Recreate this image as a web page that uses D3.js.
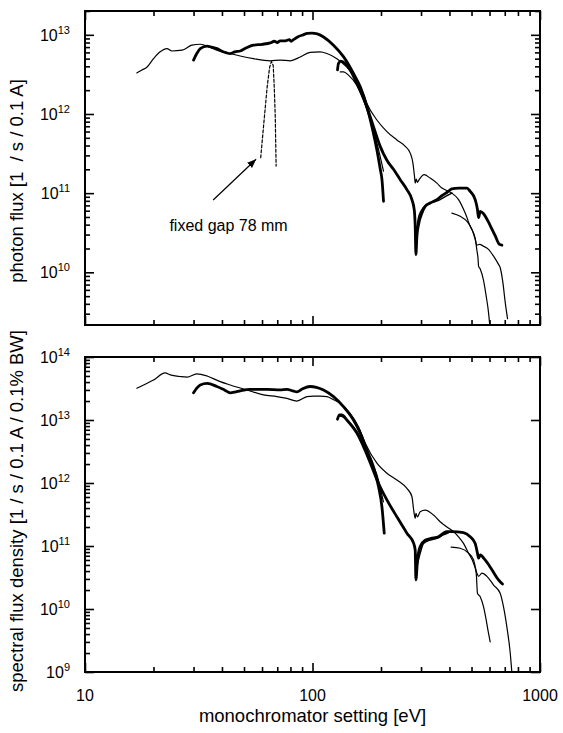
<!DOCTYPE html>
<html>
<head>
<meta charset="utf-8">
<script src="https://cdn.jsdelivr.net/npm/d3@7"></script>
<style>
  body { margin: 0; background: #fff; }
  svg text { font-family: "Liberation Sans", Arial, Helvetica, sans-serif; fill: #000; }
</style>
</head>
<body>
<svg id="chart" width="563" height="733"></svg>
<script>
// ---- data: [photon energy eV, value] ----
// upper panel: photon flux [1/s/0.1A]
const fluxThinLow = [[16.9,3.3e12],[17.8,3.6e12],[18.7,3.9e12],[20.0,5.0e12],[21.4,6.1e12],[22.9,6.7e12],[24.1,6.25e12],[26.7,6.4e12],[29.5,7.4e12],[32.1,7.6e12],[34.4,7.2e12],[38.0,6.4e12],[43.5,5.8e12],[48.1,5.4e12],[55.0,5.0e12],[65.2,4.7e12],[72.1,4.8e12],[79.8,4.7e12],[88.3,5.25e12],[97.7,6.0e12],[108,6.1e12],[115.7,5.8e12],[128,5.0e12],[141.6,3.9e12],[154,2.9e12],[164.9,2.0e12],[173.4,1.36e12],[191.9,8.4e11],[212.3,6.0e11],[235,4.7e11],[255.6,3.9e11],[268.9,3.2e11],[276.3,2.4e11],[280.8,1.63e11],[282.8,1.34e11],[285.8,1.5e11],[289.4,1.37e11],[295.1,1.5e11],[309.7,1.71e11],[328.8,1.55e11],[352.2,1.34e11],[370.5,1.16e11],[389.8,1.08e11],[410,1.0e11],[438.5,8.3e10],[469,5.6e10],[493.5,3.8e10],[519,2.7e10],[528,1.9e10],[534,1.5e10],[537,1.2e10],[546,1.1e10],[564,8.0e9],[580,5.0e9],[594,3.1e9],[601,2.2e9]];
const fluxThickHigh = [[30.0,4.8e12],[31.0,5.8e12],[32.1,6.7e12],[34.4,7.2e12],[36,7.0e12],[38.0,6.7e12],[40,6.2e12],[42.0,5.9e12],[43.5,5.8e12],[45.5,6.1e12],[48.1,6.25e12],[51,6.8e12],[55.0,7.4e12],[60,7.6e12],[65.2,7.9e12],[68,8.3e12],[70,8.0e12],[72.1,8.4e12],[76,8.4e12],[79,8.7e12],[80.5,8.3e12],[82.5,8.7e12],[86,9.4e12],[91,1.0e13],[95,1.04e13],[99.4,1.05e13],[105,1.03e13],[111.8,9.4e12],[123.7,7.4e12],[136.8,5.3e12],[151.4,3.25e12],[162.2,2.2e12],[173.5,1.24e12],[182.5,6.9e11],[191.9,3.5e11],[198.6,2.0e11],[201.9,1.5e11],[205.2,7.9e10]];
const fluxThickEdge = [[128.8,3.6e12],[130.1,4.35e12],[133.3,4.65e12],[139.2,4.35e12],[146.4,3.6e12],[156.7,2.43e12],[167.6,1.57e12],[176.3,1.07e12],[185.4,6.9e11],[198.4,3.9e11],[212.3,2.6e11],[227,2.0e11],[243,1.48e11],[260,1.11e11],[273.5,8.3e10],[280,6.2e10],[282.8,3.8e10],[284.8,1.68e10],[287.7,2.86e10],[292.4,4.0e10],[302.7,5.6e10],[312.8,6.8e10],[328.8,7.5e10],[352.2,8.3e10],[370.5,9.3e10],[389.8,1.02e11],[410,1.13e11],[438.5,1.16e11],[477.5,1.16e11],[493.5,1.05e11],[519,8.3e10],[531,6.2e10],[537,4.9e10],[546,5.9e10],[564.5,5.5e10],[604,3.9e10],[635,2.9e10],[664,2.25e10],[680,2.2e10]];
const fluxThinShort = [[132.4,3.4e12],[137,3.4e12],[143.9,3.1e12],[156.7,2.3e12],[167.6,1.5e12],[179.3,8.4e11],[188.7,5.2e11],[198.4,2.9e11],[205.1,1.9e11]];
const fluxThinRise = [[285.8,3.2e10],[292.4,4.9e10],[302.7,6.2e10],[318.4,7.2e10],[340.4,7.7e10],[364,8.3e10],[389.8,9.3e10],[410,1.0e11]];
const fluxThinTail = [[410,5.6e10],[445.8,5.1e10],[477.5,4.4e10],[502,3.5e10],[519,2.6e10],[528,2.2e10],[542,2.25e10],[564.5,2.14e10],[594,1.95e10],[625,1.6e10],[657,1.26e10],[668,1.15e10],[687,7.4e9],[703,4.2e9],[720,2.6e9]];
const fluxGap78 = [[59.2,2.8e11],[60.9,6.9e11],[63.2,2.2e12],[64.8,3.9e12],[66.0,4.6e12],[67.2,4.1e12],[67.9,2.2e12],[68.6,9.2e11],[69.2,2.2e11]];

// lower panel: spectral flux density [1/s/0.1A/0.1%BW]
const densThinLow = [[16.9,3.2e13],[18.1,3.6e13],[20.0,4.3e13],[22.5,5.6e13],[23.7,5.2e13],[26.2,4.9e13],[28.1,4.8e13],[31.0,5.4e13],[34.4,5.0e13],[39.3,4.06e13],[43.5,3.6e13],[51.5,3.0e13],[60.9,2.5e13],[69.7,2.35e13],[77.2,2.2e13],[85.4,2.0e13],[94.5,2.35e13],[101,2.4e13],[108,2.4e13],[115.7,2.35e13],[123.7,2.1e13],[132.4,1.84e13],[146.4,1.28e13],[159.3,7.8e12],[170.4,4.3e12],[191.9,2.06e12],[212.3,1.43e12],[235,1.12e12],[260,8.2e11],[273.5,6.1e11],[278.5,3.7e11],[282.8,2.75e11],[284.8,3.3e11],[289.4,2.9e11],[297.4,3.5e11],[312.8,3.7e11],[340.4,3.1e11],[364,2.43e11],[389.8,2.0e11],[416.6,1.69e11],[438.5,1.4e11],[461,1.1e11],[485,7.7e10],[510.5,5.3e10],[524.4,3.7e10],[531,1.78e10],[546,1.57e10],[564.5,1.09e10],[580,6.7e9],[594,4.1e9],[604,3.0e9]];
const densThickHigh = [[30.0,2.7e13],[31,3.2e13],[32.1,3.6e13],[34.4,3.8e13],[38.0,3.4e13],[41,3.0e13],[43.5,2.7e13],[46,2.8e13],[48.1,2.9e13],[53.1,3.07e13],[63.0,3.07e13],[72.1,3.0e13],[77.2,3.07e13],[82,2.9e13],[85.4,2.8e13],[90,3.1e13],[97.7,3.4e13],[104,3.3e13],[111.8,3.0e13],[123.7,2.35e13],[136.8,1.63e13],[151.4,1.0e13],[162.2,6.2e12],[173.5,3.3e12],[185.4,1.8e12],[195.1,8.7e11],[201.9,4.2e11],[206.7,1.6e11]];
const densThickEdge = [[128.8,1.03e13],[131.4,1.2e13],[134.6,1.2e13],[141.6,1.0e13],[156.7,6.2e12],[170.4,3.3e12],[182.4,1.8e12],[195,9.9e11],[212.3,5.4e11],[235,2.9e11],[260,1.6e11],[278.5,1.1e11],[282.8,8.6e10],[284.8,2.9e10],[289.4,6.0e10],[297.4,9.8e10],[312.8,1.24e11],[331.6,1.32e11],[358,1.4e11],[376,1.59e11],[389.8,1.69e11],[410,1.69e11],[461,1.63e11],[493.5,1.4e11],[519,1.1e11],[531,7.7e10],[537,6.4e10],[546,7.2e10],[574,6.0e10],[614.5,4.2e10],[657,2.9e10],[684,2.5e10]];
const densThinShort = [[132.4,1.15e13],[137,1.1e13],[143.9,9.5e12],[156.7,6.6e12],[167.6,4.2e12],[179.3,2.4e12],[191.9,1.35e12],[205,5.0e11]];
const densThinRise = [[287.7,4.7e10],[297.4,7.7e10],[307.6,1.1e11],[328.8,1.24e11],[352.2,1.32e11],[376,1.5e11],[396,1.62e11]];
const densThinTail = [[407,9.6e10],[446,9.2e10],[485,7.7e10],[510.5,6.0e10],[528,3.7e10],[537,3.3e10],[555.5,3.7e10],[584.5,3.3e10],[625,2.4e10],[668,1.78e10],[691,1.09e10],[715,5.2e9],[740,2.0e9],[752,1.0e9]];

// ticks and labels
const xMajor = [10, 100, 1000];
const xLabels = ['10', '100', '1000'];
const yMajorTop = [1e10, 1e11, 1e12, 1e13];
const yExpTop = ['10', '11', '12', '13'];
const yMajorBot = [1e9, 1e10, 1e11, 1e12, 1e13, 1e14];
const yExpBot = ['9', '10', '11', '12', '13', '14'];

// annotation
const gapText = 'fixed gap 78 mm';
const gapTextAt = [23.5, 3.3e10];
const gapArrow = [[36.6, 8.2e10], [56.5, 2.68e11]];

const svg = d3.select('#chart');
const x = d3.scaleLog().domain([10, 1000]).range([85, 540]);
const yTop = d3.scaleLog().domain([2.16e9, 2.0e13]).range([325, 11]);
const yBot = d3.scaleLog().domain([1e9, 1e14]).range([672, 357]);

const defs = svg.append('defs');
defs.append('marker').attr('id', 'head')
  .attr('viewBox', '0 0 10 10').attr('refX', 10).attr('refY', 5)
  .attr('markerWidth', 9).attr('markerHeight', 9).attr('markerUnits', 'userSpaceOnUse')
  .attr('orient', 'auto')
  .append('path').attr('d', 'M0,1 L10,5 L0,9 z').attr('fill', '#000');

function tickAxis(g, axis, tr) {
  const a = g.append('g').attr('transform', tr).call(axis);
  a.select('.domain').remove();
  a.selectAll('.tick text').remove();
  a.selectAll('.tick line').attr('stroke', '#000').attr('stroke-width', 1.6);
  return a;
}

function panel(id, y, yMajor, yExp, rightMinor, series) {
  const [yb, yt] = y.range();
  const [xl, xr] = x.range();
  const g = svg.append('g');

  defs.append('clipPath').attr('id', id)
    .append('rect').attr('x', xl).attr('y', yt).attr('width', xr - xl).attr('height', yb - yt);

  const xMinor = x.ticks().filter(d => !xMajor.includes(d));
  const yMinor = y.ticks().filter(d => !yMajor.some(m => Math.abs(m - d) / m < 1e-6));

  // x ticks, bottom and top, pointing inwards
  tickAxis(g, d3.axisBottom(x).tickValues(xMajor).tickSizeInner(-9).tickSizeOuter(0), `translate(0,${yb})`);
  tickAxis(g, d3.axisBottom(x).tickValues(xMinor).tickSizeInner(-5).tickSizeOuter(0), `translate(0,${yb})`);
  tickAxis(g, d3.axisTop(x).tickValues(xMajor).tickSizeInner(-9).tickSizeOuter(0), `translate(0,${yt})`);
  tickAxis(g, d3.axisTop(x).tickValues(xMinor).tickSizeInner(-5).tickSizeOuter(0), `translate(0,${yt})`);
  // y ticks
  tickAxis(g, d3.axisLeft(y).tickValues(yMajor).tickSizeInner(-9).tickSizeOuter(0), `translate(${xl},0)`);
  tickAxis(g, d3.axisLeft(y).tickValues(yMinor).tickSizeInner(-5).tickSizeOuter(0), `translate(${xl},0)`);
  tickAxis(g, d3.axisRight(y).tickValues(yMajor).tickSizeInner(-9).tickSizeOuter(0), `translate(${xr},0)`);
  if (rightMinor) {
    tickAxis(g, d3.axisRight(y).tickValues(yMinor).tickSizeInner(-5).tickSizeOuter(0), `translate(${xr},0)`);
  }

  // y labels 10^n
  g.selectAll('text.ylab').data(yMajor).join('text')
    .attr('class', 'ylab')
    .attr('x', xl - 15).attr('y', d => y(d) + 6)
    .attr('text-anchor', 'end').attr('font-size', 16)
    .each(function(d, i) {
      const t = d3.select(this);
      t.append('tspan').text('10');
      t.append('tspan').attr('dy', -7).attr('font-size', 11).text(yExp[i]);
    });

  // curves
  const cg = g.append('g').attr('clip-path', `url(#${id})`);
  series.forEach(s => {
    const line = d3.line().x(d => x(d[0])).y(d => y(d[1]))
      .curve(s.dash ? d3.curveLinear : d3.curveMonotoneX);
    cg.append('path').datum(s.data)
      .attr('d', line)
      .attr('fill', 'none').attr('stroke', '#000')
      .attr('stroke-width', s.w)
      .attr('stroke-linejoin', 'round').attr('stroke-linecap', 'round')
      .attr('stroke-dasharray', s.dash || null);
  });

  // frame
  g.append('rect').attr('x', xl).attr('y', yt).attr('width', xr - xl).attr('height', yb - yt)
    .attr('fill', 'none').attr('stroke', '#000').attr('stroke-width', 2);
  return g;
}

const gTop = panel('clipTop', yTop, yMajorTop, yExpTop, true, [
  { data: fluxThinLow, w: 1.2 },
  { data: fluxThickHigh, w: 2.8 },
  { data: fluxThickEdge, w: 2.8 },
  { data: fluxThinShort, w: 1.2 },
  { data: fluxThinRise, w: 1.5 },
  { data: fluxThinTail, w: 1.2 },
  { data: fluxGap78, w: 1.2, dash: '3,2' }
]);

const gBot = panel('clipBot', yBot, yMajorBot, yExpBot, false, [
  { data: densThinLow, w: 1.2 },
  { data: densThickHigh, w: 2.8 },
  { data: densThickEdge, w: 2.8 },
  { data: densThinShort, w: 1.2 },
  { data: densThinRise, w: 1.5 },
  { data: densThinTail, w: 1.2 }
]);

// annotation in upper panel
gTop.append('line')
  .attr('x1', x(gapArrow[0][0])).attr('y1', yTop(gapArrow[0][1]))
  .attr('x2', x(gapArrow[1][0])).attr('y2', yTop(gapArrow[1][1]))
  .attr('stroke', '#000').attr('stroke-width', 1.2)
  .attr('marker-end', 'url(#head)');
gTop.append('text')
  .attr('x', x(gapTextAt[0])).attr('y', yTop(gapTextAt[1]))
  .attr('font-size', 16).text(gapText);

// x tick labels under lower panel
svg.selectAll('text.xlab').data(xMajor).join('text')
  .attr('class', 'xlab')
  .attr('x', d => x(d)).attr('y', 701)
  .attr('text-anchor', 'middle').attr('font-size', 16)
  .text((d, i) => xLabels[i]);

// axis titles
svg.append('text')
  .attr('x', x(100)).attr('y', 722)
  .attr('text-anchor', 'middle').attr('font-size', 18.5)
  .text('monochromator setting [eV]');
svg.append('text')
  .attr('transform', 'translate(23,181) rotate(-90)')
  .attr('text-anchor', 'middle').attr('font-size', 18.5)
  .text('photon flux [1  / s / 0.1 A]')
  .style('white-space', 'pre');
svg.append('text')
  .attr('transform', 'translate(23,511) rotate(-90)')
  .attr('text-anchor', 'middle').attr('font-size', 18.5)
  .text('spectral flux density [1 / s / 0.1 A / 0.1% BW]');
</script>
</body>
</html>
